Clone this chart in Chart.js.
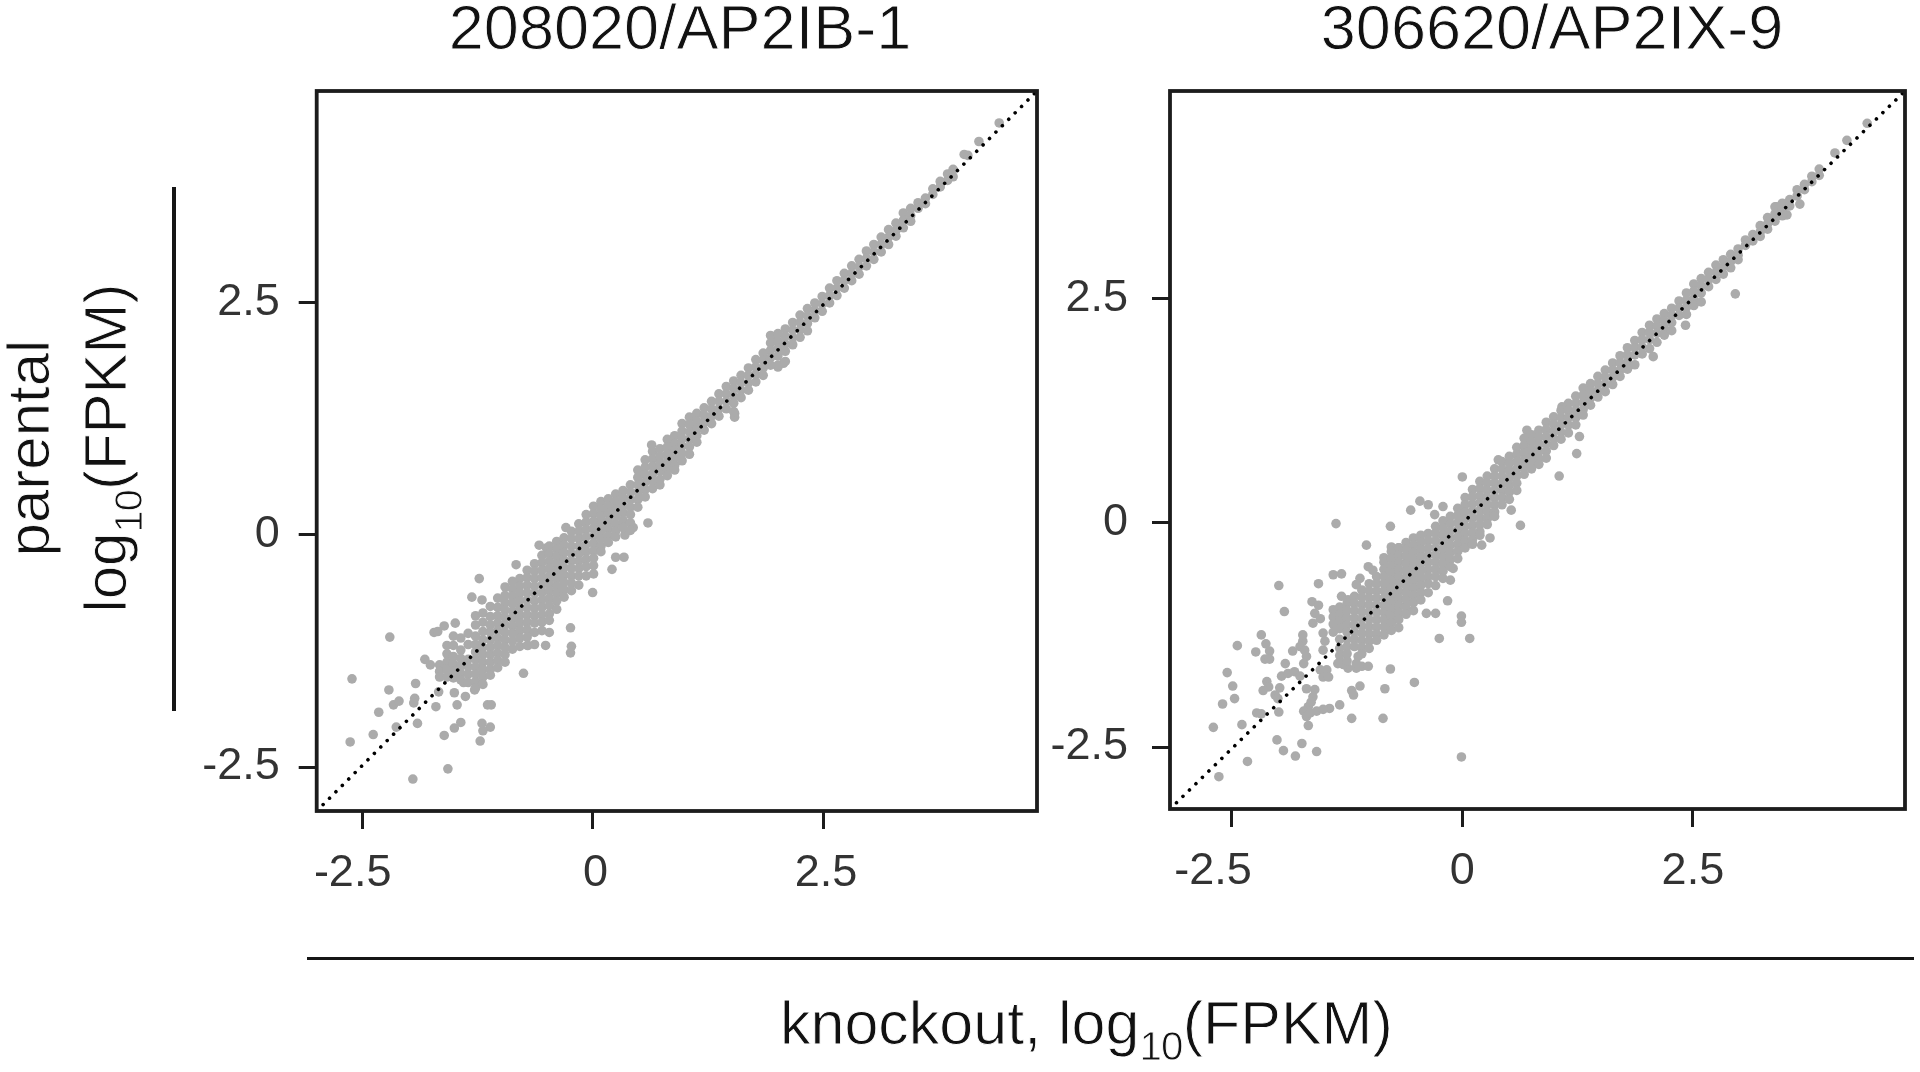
<!DOCTYPE html>
<html><head><meta charset="utf-8">
<script src="https://cdn.jsdelivr.net/npm/chart.js@4"></script>
<style>
html,body{margin:0;padding:0;background:#fff;width:1920px;height:1072px;overflow:hidden}
#fig{position:absolute;left:0;top:0;width:1920px;height:1072px;filter:blur(.5px)}
canvas{position:absolute}
.t{position:absolute;font-family:"Liberation Sans",sans-serif;color:#111;white-space:nowrap;line-height:1;-webkit-text-stroke:.9px #fff}
.s{position:relative;top:.4em;font-size:.66em;letter-spacing:-.02em}
.rule{position:absolute;background:#161616}
</style></head><body>
<div id="fig">
<canvas id="a" width="845" height="830" style="left:200px;top:80px"></canvas>
<canvas id="b" width="865" height="830" style="left:1050px;top:80px"></canvas>
<div class="t" id="ta" style="left:680px;top:-4px;font-size:63px;transform:translateX(-50%)"></div>
<div class="t" id="tb" style="left:1552px;top:-4px;font-size:63px;transform:translateX(-50%)"></div>
<div class="t" style="left:29px;top:448px;font-size:60px;transform:translate(-50%,-50%) rotate(-90deg)">parental</div>
<div class="t" style="left:106px;top:448px;font-size:60px;transform:translate(-50%,-50%) rotate(-90deg)">log<span class="s">10</span>(FPKM)</div>
<div class="t" style="left:780px;top:993.4px;font-size:61px">knockout, log<span class="s">10</span>(FPKM)</div>
<div class="rule" style="left:307px;top:956.5px;width:1607px;height:3.6px"></div>
<div class="rule" style="left:172.2px;top:187px;width:3.6px;height:524px"></div>
</div>
<script>
const panelTitles=['208020/AP2IB-1','306620/AP2IX-9'];
const tickValues=[-2.5,0,2.5];
const tickLabels=['-2.5','0','2.5'];
const leftRange={xMin:-2.993,xMax:4.82,yMin:-2.974,yMax:4.784};
const rightRange={xMin:-3.17,xMax:4.80,yMin:-3.19,yMax:4.81};

const leftOutliers=[[-2.61,-1.55],[-2.63,-2.23],[-2.2,-1.1],[-2.21,-1.67],[-1.92,-1.6],[-2.32,-1.91],[-2.16,-1.83],[-2.1,-1.79],[-2.38,-2.15],[-2.13,-2.07],[-1.93,-1.76],[-1.94,-1.81],[-1.9,-2.03],[-1.7,-1.85],[-1.95,-2.63],[-1.57,-2.52],[-1.61,-2.16],[-1.5,-2.08],[-1.43,-2.02],[-1.22,-2.22],[-1.2,-2.03],[-1.11,-2.07],[-1.19,-2.11],[-1.14,-1.83],[-1.1,-1.83],[-1.47,-1.83],[-1.38,-1.74],[-1.5,-1.7],[-1.28,-1.67],[-1.67,-1.69],[-1.4,-1.59],[-.75,-1.49],[-1.82,-1.34],[-1.76,-1.4],[-1.72,-1.05],[-1.68,-1.04],[-1.61,-.98],[-1.49,-.95],[-1.23,-.47],[-1.31,-.67],[-1.2,-.7],[-.83,-.32],[-.29,.08],[-.58,-.11],[-.5,-.14],[-.24,-1],[-.23,-1.2],[-.24,-1.27],[-.51,-1.19],[-.63,-1.18],[-.7,-1.19],[-.47,-1.05],[0,-.62],[.21,-.37],[.25,-.24],[.34,-.24],[.35,0],[.6,.13],[.44,.08],[4.03,4.1],[4.07,4.09],[4.19,4.24],[4.41,4.44],[.64,.97],[.57,.81],[1.96,2.12],[2.01,1.81],[2.07,1.85],[1.54,1.31],[1.54,1.27]];
const leftCloud=[
[-1.66,-1.4,-1.47,-1.53],[-1.58,-1.19,-1.28,-1.37,-1.45,-1.53],[-1.51,-1.09,-1.19,-1.31,-1.39,-1.47,-1.54],[-1.43,-1.11,-1.24,-1.33,-1.41,-1.49,-1.56],[-1.35,-1.06,-1.18,-1.34,-1.42,-1.5,-1.59],
[-1.27,-.87,-.97,-1.09,-1.18,-1.26,-1.34,-1.42,-1.5,-1.58,-1.65],[-1.19,-.84,-.94,-1.04,-1.13,-1.21,-1.29,-1.37,-1.45,-1.53,-1.61],[-1.11,-.77,-.88,-.97,-1.05,-1.13,-1.21,-1.29,-1.37,-1.45,-1.51],[-1.03,-.68,-.78,-.87,-.95,-1.03,-1.11,-1.19,-1.27,-1.35,-1.43],
[-.95,-.56,-.65,-.73,-.81,-.89,-.97,-1.05,-1.13,-1.21,-1.29,-1.37],[-.87,-.5,-.58,-.66,-.74,-.82,-.9,-.98,-1.06,-1.14,-1.23],[-.79,-.47,-.55,-.63,-.71,-.79,-.87,-.95,-1.03,-1.11,-1.2],[-.71,-.38,-.46,-.54,-.62,-.7,-.78,-.86,-.94,-1.02,-1.1,-1.19],[-.63,-.31,-.39,-.47,-.55,-.63,-.71,-.79,-.87,-.95,-1.05],[-.55,-.22,-.3,-.38,-.46,-.54,-.62,-.7,-.78,-.86,-.94,-1.03],[-.47,-.12,-.2,-.28,-.36,-.44,-.52,-.6,-.68,-.76,-.85,-.92],[-.39,-.07,-.15,-.23,-.31,-.39,-.47,-.55,-.63,-.71,-.8],[-.31,-.03,-.11,-.19,-.27,-.35,-.43,-.51,-.59,-.67],[-.23,.04,-.04,-.12,-.2,-.28,-.36,-.44,-.52,-.6],[-.15,.12,.04,-.04,-.12,-.2,-.28,-.36,-.44,-.54],[-.07,.22,.14,.06,-.02,-.1,-.18,-.26,-.34,-.44],[.01,.31,.23,.15,.07,-.01,-.09,-.17,-.25,-.33,-.42],
[.09,.36,.28,.2,.12,.04,-.04,-.12,-.18],[.17,.39,.31,.23,.15,.07,-.01,-.08],[.25,.44,.36,.28,.2,.12,.04,-.02],[.33,.48,.4,.32,.24,.16,.08],[.41,.54,.46,.38,.3,.22,.13,.05],[.49,.7,.62,.54,.46,.38,.3],[.57,.73,.65,.57,.49,.41],[.65,.9,.82,.74,.66,.58,.5],[.73,.93,.85,.77,.69,.6,.54],[.81,1.03,.95,.87,.79,.71,.64],[.89,1.07,.99,.91,.83,.75,.7],[.97,1.2,1.12,1.04,.96,.88,.8],[1.05,1.27,1.19,1.11,1.03,.95,.87],[1.13,1.31,1.23,1.15,1.07,1],[1.21,1.37,1.29,1.21,1.13],[1.29,1.44,1.36,1.28,1.2],[1.37,1.52,1.44,1.36,1.28],[1.45,1.6,1.52,1.44,1.36],[1.53,1.66,1.58,1.5,1.42,1.33],[1.61,1.72,1.64,1.56,1.48],[1.69,1.8,1.72,1.64,1.56],[1.77,1.89,1.81,1.73,1.65],[1.85,1.96,1.88,1.8,1.72],[1.93,2.15,2.07,1.99,1.91,1.83],[2.01,2.17,2.09,2.01,1.93,1.83],[2.09,2.22,2.14,2.06,1.98,1.87],[2.17,2.29,2.21,2.13,2.05],[2.25,2.37,2.29,2.21,2.13],[2.33,2.44,2.36,2.28,2.2],[2.41,2.5,2.42,2.34],[2.49,2.57,2.49,2.41],[2.57,2.66,2.58,2.5],[2.65,2.74,2.66,2.58],[2.73,2.82,2.74,2.66],[2.81,2.9,2.82,2.74],[2.89,2.97,2.89,2.81],[2.97,3.06,2.98,2.9],[3.05,3.13,3.05,2.97],[3.13,3.21,3.13,3.05],[3.21,3.29,3.21,3.13],[3.29,3.36,3.28,3.22],[3.37,3.47,3.39,3.31],[3.45,3.52,3.44,3.38],[3.53,3.58,3.52],[3.61,3.63,3.57],[3.69,3.73,3.67],[3.77,3.81,3.75],[3.85,3.89,3.82],[3.91,3.94,3.86]];

const rightOutliers=[[-2.64,-2.83],[-2.33,-2.66],[-2.7,-2.28],[-2.39,-2.25],[-2.6,-2.02],[-2.47,-1.96],[-2.49,-1.82],[-2.55,-1.67],[-2.44,-1.37],[-2.18,-1.25],[-2.13,-1.35],[-2.09,-1.43],[-2.24,-1.44],[-2.14,-1.52],[-2.09,-1.52],[-1.99,-.7],[-1.93,-.99],[-1.56,-.68],[-1.4,-.58],[-1.31,-.57],[-1.37,-.01],[-1.04,-.25],[-.78,-.04],[-.56,.14],[-.46,.24],[-.37,.2],[-.3,.09],[-.21,.18],[0,.51],[.63,-.03],[.53,.14],[-.16,-.87],[-.01,-1.04],[-.01,-1.11],[.08,-1.29],[-.25,-1.29],[-.39,-1.01],[-.29,-1.01],[-.78,-1.63],[-.52,-1.78],[-.84,-1.85],[-1.11,-1.82],[-1.2,-1.87],[-1.18,-1.92],[-1.33,-2.03],[-1.44,-2.07],[-1.2,-2.18],[-.86,-2.18],[-.01,-2.61],[-1.58,-2.55],[-1.74,-2.46],[-1.81,-2.6],[-1.94,-2.54],[-2.01,-2.42],[-1.99,-2.11],[-2.18,-2.13],[-2.23,-2.12],
[-1.84,-1.43],[-1.92,-1.57],[-1.96,-1.71],[-1.89,-1.68],[-1.82,-1.66],[-1.76,-1.71],[-2.12,-1.77],[-2.1,-1.83],[-2.16,-1.87],[-2.03,-1.92],[-1.98,-1.84],[-2,-1.96],[-1.73,-1.32],[-1.76,-1.38],[-1.71,-1.42],[-1.69,-1.49],[-1.72,-1.57],[-1.73,-1.25],[-1.69,-1.85],[-1.6,-1.86],[-1.62,-1.94],[-1.67,-2.05],[-1.72,-2.1],[-1.69,-2.16],[-1.67,-2.26],[-1.58,-2.1],[-1.51,-2.08],[-1.65,-2.12],[-1.64,-2],[-1.54,-1.64],[-1.47,-1.64],[-1.51,-1.72],[-1.45,-1.72],[-1.24,-1.62],[-1.15,-1.62],[-1.09,-1.6],[-1.02,-1.6],[-1.13,-1.49],[-1.15,-1.57],[-1.35,-1.57],[-1.29,-1.58],[-1.63,-.88],[-1.56,-.92],[-1.6,-1.01],[-1.62,-1.12],[-1.54,-1.07],[-1.51,-1.23],[-1.49,-1.32],[-1.51,-1.42],[-1.02,-.49],[-1.11,-.62],[-1.15,-.69],[-.97,-.53],[-1.31,-.82],[-1.24,-.86],[-.85,-.39],[-.77,-.27],[-.69,-.28],[.39,.7],[.3,-.17],[.21,-.25],[-.13,-.64],[-.1,-.51],[1.05,.52],[1.24,.77],[1.27,.96],[.7,1.03],[1.08,1.29],[3.66,3.55],[3.52,3.43],[2.96,2.55],[2.42,2.2],[2.07,1.85],[3.41,3.52],[4.04,4.12],[4.17,4.26],[4.39,4.45]];
const rightCloud=[
[-1.4,-.97,-1.05,-1.13,-1.22],[-1.33,-.94,-1.02,-1.1,-1.18,-1.3,-1.4,-1.48,-1.56],[-1.25,-.9,-.98,-1.06,-1.14,-1.22,-1.3,-1.38,-1.46,-1.54],[-1.17,-.82,-.9,-.98,-1.06,-1.14,-1.22,-1.3,-1.38],[-1.09,-.75,-.83,-.91,-.99,-1.07,-1.15,-1.23,-1.31,-1.39,-1.46],[-1.01,-.68,-.76,-.84,-.92,-1,-1.08,-1.16,-1.24,-1.32,-1.4],[-.93,-.6,-.68,-.76,-.84,-.92,-1,-1.08,-1.16,-1.24,-1.31],[-.85,-.44,-.52,-.6,-.68,-.76,-.84,-.92,-1,-1.08,-1.16,-1.25],[-.77,-.32,-.4,-.48,-.56,-.64,-.72,-.8,-.88,-.96,-1.04,-1.12,-1.2],[-.69,-.28,-.36,-.44,-.52,-.6,-.68,-.76,-.84,-.92,-1,-1.08,-1.17],[-.61,-.22,-.3,-.38,-.46,-.54,-.62,-.7,-.78,-.86,-.94,-1.02],[-.53,-.17,-.25,-.33,-.41,-.49,-.57,-.65,-.73,-.81,-.89,-.98],[-.45,-.14,-.22,-.3,-.38,-.46,-.54,-.62,-.7,-.78,-.86],[-.37,-.12,-.2,-.28,-.36,-.44,-.52,-.6,-.68,-.78],[-.29,-.04,-.12,-.2,-.28,-.36,-.44,-.52,-.6,-.7],[-.21,.02,-.06,-.14,-.22,-.3,-.38,-.46,-.54,-.62],[-.13,.07,-.01,-.09,-.17,-.25,-.33,-.41,-.49],[-.05,.16,.08,0,-.08,-.16,-.24,-.32,-.4],[.03,.28,.2,.12,.04,-.04,-.12,-.2,-.28],[.11,.37,.29,.21,.13,.05,-.03,-.11,-.19,-.24],[.19,.46,.38,.3,.22,.14,.06,-.02,-.1,-.14],[.27,.52,.44,.36,.28,.2,.12,.04,-.02],[.35,.6,.52,.44,.36,.28,.2,.12,.07],[.43,.68,.6,.52,.44,.36,.28,.2],[.51,.74,.66,.58,.5,.42,.34,.26],[.59,.84,.76,.68,.6,.52,.44,.36],[.67,.94,.86,.78,.7,.62,.54],[.75,.98,.9,.82,.74,.66,.6],[.83,1.03,.95,.87,.79,.71,.65],[.91,1.12,1.04,.96,.88,.8,.72],[.99,1.18,1.1,1.02,.94,.86],[1.07,1.25,1.17,1.09,1.01,.93],[1.15,1.33,1.25,1.17,1.09,1],[1.23,1.41,1.33,1.25,1.17,1.09],[1.31,1.5,1.42,1.34,1.26,1.2],[1.39,1.55,1.47,1.39,1.31],[1.47,1.63,1.55,1.47,1.4],[1.55,1.7,1.62,1.54,1.46],[1.63,1.78,1.7,1.62,1.54],[1.71,1.86,1.78,1.7,1.63],[1.79,1.95,1.87,1.79,1.71],[1.87,2.03,1.95,1.87,1.76],[1.95,2.12,2.04,1.96,1.88],[2.03,2.2,2.12,2.04,1.94],[2.11,2.27,2.19,2.11,2.01],[2.19,2.33,2.25,2.17,2.09],[2.27,2.39,2.31,2.23,2.14],[2.35,2.47,2.39,2.31],[2.43,2.56,2.48,2.4,2.32],[2.51,2.66,2.58,2.5,2.42],[2.59,2.72,2.64,2.56,2.46],[2.67,2.79,2.71,2.63],[2.75,2.87,2.79,2.71],[2.83,2.93,2.85,2.77],[2.91,2.99,2.91,2.84],[2.99,3.05,2.98,2.93],[3.07,3.15,3.09],[3.15,3.21,3.14],[3.23,3.31,3.24,3.19],[3.31,3.4,3.33,3.27],[3.39,3.52,3.44,3.36],[3.47,3.56,3.49,3.42],[3.55,3.6,3.53],[3.63,3.71,3.64],[3.71,3.77,3.71],[3.79,3.86,3.8],[3.87,3.94,3.87]];

document.getElementById('ta').textContent=panelTitles[0];
document.getElementById('tb').textContent=panelTitles[1];
const TICK_FONT={family:'"Liberation Sans",sans-serif',size:45};
const INK='#1c1c1c';
const framePlugin={id:'frame',afterDatasetsDraw(c){const a=c.chartArea,x=c.ctx;x.save();x.strokeStyle=INK;x.lineWidth=3.8;x.strokeRect(a.left,a.top,a.right-a.left,a.bottom-a.top);x.restore();}};
function points(outliers,cloud){
  const p=outliers.map(([x,y])=>({x,y}));
  cloud.forEach(r=>{for(let i=1;i<r.length;i++)p.push({x:r[0],y:r[i]});});
  return p;
}
function axis(min,max,size,lblPad,negLabelPad,lblOffset){return{
  type:'linear',min,max,
  afterBuildTicks(s){s.ticks=tickValues.map(value=>({value}));},
  afterFit(s){if(s.isHorizontal())s.height=size;else s.width=size;s.paddingTop=s.paddingBottom=s.paddingLeft=s.paddingRight=0;},
  grid:{drawOnChartArea:false,drawTicks:true,tickLength:18,tickWidth:3,tickColor:INK},
  border:{display:false},
  ticks:{font:TICK_FONT,color:'#333',padding:lblPad,maxRotation:0,autoSkip:false,labelOffset:lblOffset||0,
    callback:(v)=>{const l=tickLabels[tickValues.indexOf(v)];return (negLabelPad&&v<0)?l+negLabelPad:l;}}
};}
function panel(id,outliers,cloud,rg,yW,xH,pad,yPad,negPad,xOffset){
  new Chart(document.getElementById(id),{
    type:'scatter',
    data:{datasets:[
      {type:'line',label:'y = x',order:0,data:[{x:rg.xMin,y:rg.yMin},{x:rg.xMax,y:rg.yMax}],borderColor:'#000',borderWidth:3.6,borderDash:[.01,9.05],borderCapStyle:'round',pointRadius:0,fill:false},
      {label:'genes',order:1,data:points(outliers,cloud),backgroundColor:'#ababab',borderWidth:0,pointRadius:4.8,pointHoverRadius:4.8}
    ]},
    options:{responsive:false,animation:false,
      layout:{padding:pad,autoPadding:false},
      plugins:{legend:{display:false},tooltip:{enabled:false},title:{display:false}},
      scales:{x:axis(rg.xMin,rg.xMax,xH,18,negPad,xOffset),y:axis(rg.yMin,rg.yMax,yW,yPad)}
    },
    plugins:[framePlugin]
  });
}
panel('a',leftOutliers,leftCloud,leftRange,116.7,99,{top:11,right:8,left:0,bottom:0},19,'  ',3);
panel('b',rightOutliers,rightCloud,rightRange,120,101,{top:11,right:10,left:0,bottom:0},24,'   ',0);
</script>
</body></html>
